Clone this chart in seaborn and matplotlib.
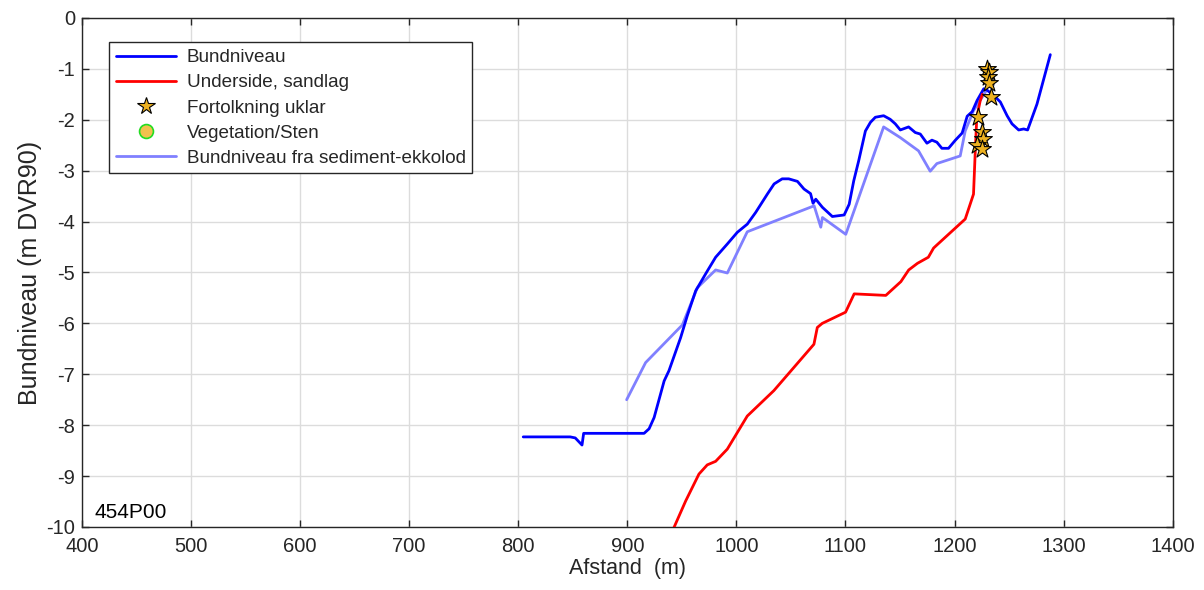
import matplotlib
matplotlib.use("Agg")
import matplotlib.pyplot as plt
import seaborn as sns
import pandas as pd
from matplotlib.lines import Line2D

# ---- data ----
bund_x = [804.6, 847.7, 852.3, 858.5, 860.0, 875.6, 915.4, 920.0, 924.6, 933.8, 938.2, 948.9,
          955.0, 962.7, 973.4, 981.0, 991.7, 1000.9, 1010.0, 1017.7, 1028.4, 1034.6, 1042.0,
          1048.0, 1056.0, 1062.0, 1068.0, 1070.3, 1072.8, 1078.9, 1088.0, 1098.8, 1103.4,
          1107.6, 1112.2, 1118.3, 1122.9, 1127.4, 1135.0, 1141.0, 1145.7, 1150.3, 1157.9,
          1164.0, 1168.6, 1174.7, 1179.3, 1183.8, 1188.4, 1194.5, 1200.8, 1207.0, 1211.6,
          1216.2, 1220.7, 1226.8, 1229.9, 1236.0, 1242.0, 1248.2, 1252.7, 1258.8, 1263.4,
          1267.0, 1275.6, 1287.8]
bund_y = [-8.23, -8.23, -8.25, -8.39, -8.16, -8.16, -8.16, -8.07, -7.85, -7.13, -6.93, -6.28,
          -5.85, -5.36, -4.97, -4.70, -4.44, -4.21, -4.05, -3.82, -3.46, -3.26, -3.16,
          -3.16, -3.21, -3.36, -3.45, -3.64, -3.56, -3.72, -3.90, -3.87, -3.66,
          -3.20, -2.80, -2.22, -2.05, -1.95, -1.92, -1.99, -2.08, -2.20, -2.14,
          -2.25, -2.28, -2.46, -2.40, -2.44, -2.56, -2.56, -2.40, -2.26, -1.93,
          -1.84, -1.62, -1.39, -1.42, -1.52, -1.65, -1.92, -2.08, -2.20, -2.18,
          -2.20, -1.69, -0.72]

sand_x = [942.8, 953.5, 965.7, 973.3, 981.0, 991.7, 1010.0, 1034.4, 1071.1, 1074.2, 1078.7,
          1100.1, 1108.0, 1137.0, 1150.8, 1158.0, 1166.0, 1176.0, 1180.8, 1183.8, 1209.8,
          1217.4, 1218.9, 1220.4, 1223.5, 1225.5]
sand_y = [-10.01, -9.49, -8.96, -8.78, -8.71, -8.47, -7.82, -7.32, -6.41, -6.08, -6.00,
          -5.78, -5.42, -5.45, -5.18, -4.95, -4.82, -4.70, -4.52, -4.46, -3.95,
          -3.46, -2.67, -1.95, -1.63, -1.50]

sed_x = [899.4, 916.8, 950.5, 964.2, 981.0, 991.7, 1010.0, 1071.3, 1077.4, 1078.9, 1100.3,
         1135.0, 1150.3, 1167.0, 1177.7, 1183.8, 1205.2, 1209.8, 1217.4, 1228.5]
sed_y = [-7.50, -6.77, -6.03, -5.30, -4.95, -5.01, -4.20, -3.69, -4.11, -3.92, -4.25,
         -2.14, -2.35, -2.61, -3.01, -2.86, -2.71, -2.22, -1.82, -1.45]

star_x = [1229.5, 1232.0, 1231.0, 1232.0, 1233.0, 1221.5, 1225.5, 1226.0, 1221.0, 1225.0]
star_y = [-1.00, -1.07, -1.15, -1.27, -1.56, -1.94, -2.23, -2.38, -2.50, -2.58]

xticks = [400, 500, 600, 700, 800, 900, 1000, 1100, 1200, 1300, 1400]
yticks = [0, -1, -2, -3, -4, -5, -6, -7, -8, -9, -10]

# ---- style ----
sns.set_theme(style="whitegrid")
plt.rcParams['font.family'] = ['Liberation Sans', 'DejaVu Sans']
plt.rcParams['axes.unicode_minus'] = False
axcol = '#262626'

fig = plt.figure(figsize=(12.04, 5.90), dpi=100)
ax = fig.add_axes([0.068, 0.1068, 0.906, 0.8627])

bund = pd.DataFrame({'x': bund_x, 'y': bund_y})
sand = pd.DataFrame({'x': sand_x, 'y': sand_y})
sed = pd.DataFrame({'x': sed_x, 'y': sed_y})
stars = pd.DataFrame({'x': star_x, 'y': star_y})

sns.lineplot(data=sed, x='x', y='y', sort=False, estimator=None, ax=ax,
             color='#8080FF', lw=2.0, zorder=2)
sns.lineplot(data=bund, x='x', y='y', sort=False, estimator=None, ax=ax,
             color='#0000FF', lw=2.0, zorder=3)
sns.lineplot(data=sand, x='x', y='y', sort=False, estimator=None, ax=ax,
             color='#FF0000', lw=2.0, zorder=3)
sns.scatterplot(data=stars, x='x', y='y', ax=ax, marker='*', s=180,
                color='#EDB120', edgecolor='black', linewidth=0.8, zorder=5)

ax.set_xlim(400, 1400)
ax.set_ylim(-10, 0)
ax.set_xticks(xticks)
ax.set_yticks(yticks)
ax.tick_params(direction='in', length=5, width=1.0, colors=axcol, labelsize=14.5,
               top=True, right=True, bottom=True, left=True, pad=5)
ax.tick_params(axis='x', pad=7)
ax.grid(True, color='#DCDCDC', lw=1.0)
ax.set_facecolor('white')
for s in ax.spines.values():
    s.set_color(axcol)
    s.set_linewidth(1.0)
    s.set_visible(True)

ax.set_xlabel('Afstand  (m)', fontsize=15.5, color=axcol, labelpad=2)
ax.set_ylabel('Bundniveau (m DVR90)', fontsize=18, color=axcol, labelpad=3)

ax.text(0.012, 0.01, '454P00', transform=ax.transAxes, fontsize=15,
        color='black', ha='left', va='bottom')

handles = [
    Line2D([], [], color='#0000FF', lw=2.0),
    Line2D([], [], color='#FF0000', lw=2.0),
    Line2D([], [], ls='none', marker='*', markersize=13, markerfacecolor='#EDB120',
           markeredgecolor='black', markeredgewidth=0.8),
    Line2D([], [], ls='none', marker='o', markersize=10, markerfacecolor='#F2C14E',
           markeredgecolor='#22DD22', markeredgewidth=1.2),
    Line2D([], [], color='#8080FF', lw=2.0),
]
labels = ['Bundniveau', 'Underside, sandlag', 'Fortolkning uklar',
          'Vegetation/Sten', 'Bundniveau fra sediment-ekkolod']
leg = ax.legend(handles, labels, loc='upper left', bbox_to_anchor=(0.025, 0.952),
                fontsize=13.6, frameon=True, fancybox=False, framealpha=1,
                edgecolor=axcol, borderpad=0.35, labelspacing=0.42,
                handlelength=3.2, handletextpad=0.55, borderaxespad=0)
leg.get_frame().set_linewidth(1.0)

fig.savefig('out.png', dpi=100)
